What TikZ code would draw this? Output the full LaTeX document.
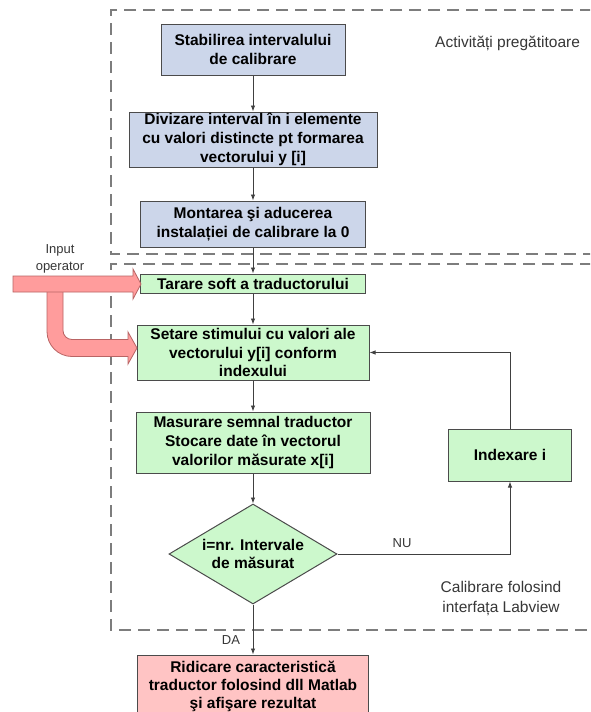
\documentclass[tikz,border=0pt]{standalone}
\usepackage{fontspec}
\setmainfont{Liberation Sans}
\usetikzlibrary{shapes.geometric,arrows.meta}
\definecolor{bluefill}{RGB}{204,214,234}
\definecolor{greenfill}{RGB}{204,248,204}
\definecolor{redfill}{RGB}{255,196,196}
\definecolor{pinkfill}{RGB}{255,156,156}
\definecolor{pinkdraw}{RGB}{185,100,100}
\definecolor{boxdraw}{RGB}{75,75,75}
\definecolor{dashgray}{RGB}{125,125,125}
\definecolor{lblgray}{RGB}{55,55,55}
\tikzset{
  boxtext/.style={inner sep=0pt, align=center, font=\fontsize{15.5}{18.8}\selectfont\bfseries},
  box/.style={boxtext, draw=boxdraw, line width=1pt},
  bluebox/.style={box, fill=bluefill},
  greenbox/.style={box, fill=greenfill},
  redbox/.style={box, fill=redfill},
  decision/.style={diamond, draw=boxdraw, line width=1pt, fill=greenfill, inner sep=0pt},
  arr/.style={draw=black!75, line width=0.9pt, -{Latex[length=6pt,width=4.5pt]}},
  region/.style={draw=dashgray, line width=1.4pt, dash pattern=on 12pt off 7pt},
  lbl/.style={font=\fontsize{15.5}{20}\selectfont, text=lblgray, align=center, inner sep=0pt},
  smalllbl/.style={font=\fontsize{13}{17}\selectfont, text=lblgray, align=center, inner sep=0pt},
  bigarrow/.style={fill=pinkfill, draw=pinkdraw, line width=0.8pt, line join=miter},
}
\begin{document}
\begin{tikzpicture}[x=1pt, y=-1pt]
\clip (0,0) rectangle (590,712);
\fill[white] (0,0) rectangle (590,712);

% dashed regions
\draw[region] (592,10) -- (111,10) -- (111,254) -- (592,254);
\draw[region] (592,264) -- (111,264) -- (111,630) -- (592,630);

% nodes
\node[bluebox, minimum width=184pt, minimum height=51pt] (b1) at (253,49.5) {Stabilirea intervalului\\de calibrare};
\node[bluebox, minimum width=248pt, minimum height=55pt] (b2) at (253,139.5) {Divizare interval în i elemente\\cu valori distincte pt formarea\\vectorului y [i]};
\node[bluebox, minimum width=225pt, minimum height=46pt] (b3) at (253,224) {Montarea şi aducerea\\instalației de calibrare la 0};
\node[greenbox, minimum width=225pt, minimum height=19pt] (b4) at (253,283.5) {Tarare soft a traductorului};
\node[greenbox, minimum width=232pt, minimum height=55pt] (b5) at (253,352.5) {Setare stimului cu valori ale\\vectorului y[i] conform\\indexului};
\node[greenbox, minimum width=234pt, minimum height=61pt] (b6) at (253,442.5) {Masurare semnal traductor\\Stocare date în vectorul\\valorilor măsurate x[i]};
\node[decision, minimum width=168pt, minimum height=100pt] (d) at (253,554) {};
\node[boxtext] (dt) at (d.center) {i=nr. Intervale\\de măsurat};
\node[greenbox, minimum width=123pt, minimum height=52pt] (idx) at (510,455) {Indexare i};
\node[redbox, font=\fontsize{15.5}{18}\selectfont\bfseries, minimum width=231pt, minimum height=62pt] (b7) at (253,686) {Ridicare caracteristică\\traductor folosind dll Matlab\\şi afişare rezultat};

% labels
\node[lbl, anchor=west] (act) at (435,43) {Activități pregătitoare};
\node[lbl] (cal) at (501,599) {Calibrare folosind\\interfața Labview};
\node[smalllbl] (inp) at (60,258.5) {Input\\operator};
\node[smalllbl] (nu) at (402,543) {NU};
\node[smalllbl] (da) at (231,640) {DA};

% connectors
\draw[arr] (b1.south) -- (b2.north);
\draw[arr] (b2.south) -- (b3.north);
\draw[arr] (b3.south) -- (b4.north);
\draw[arr] (b4.south) -- (b5.north);
\draw[arr] (b5.south) -- (b6.north);
\draw[arr] (b6.south) -- (d.north);
\draw[arr] (d.south) -- (b7.north);
\draw[arr] (d.east) -| (idx.south);
\draw[arr] (idx.north) |- (b5.east);

% operator input block arrows
\path[bigarrow] (47,290) -- (47,331.5) arc[start angle=180,end angle=90,radius=25]
  -- (128,356.5) -- (128,364) -- (137,348) -- (128,332) -- (128,339.5) -- (72,339.5)
  arc[start angle=90,end angle=180,radius=9] -- (63,290) -- cycle;
\path[bigarrow] (13,276) -- (133,276) -- (133,269) -- (141,284) -- (133,299) -- (133,292) -- (13,292) -- cycle;
\end{tikzpicture}
\end{document}
